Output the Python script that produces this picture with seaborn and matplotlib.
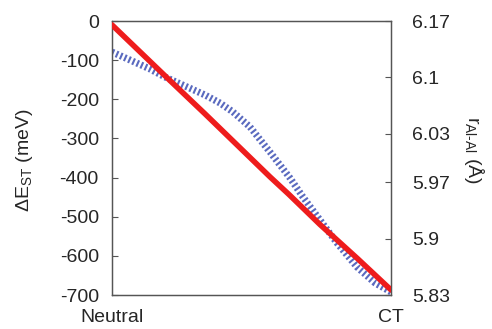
import matplotlib
matplotlib.use("Agg")
import matplotlib.pyplot as plt
import seaborn as sns

sns.set_style("ticks")
plt.rcParams['font.family'] = ['Liberation Sans', 'DejaVu Sans']
plt.rcParams['mathtext.fontset'] = 'custom'
plt.rcParams['mathtext.rm'] = 'Liberation Sans'
plt.rcParams['mathtext.it'] = 'Liberation Sans'

# Reaction coordinate (0 = Neutral, 1 = CT)
coord_red = [0.0, 0.19, 0.333, 0.566, 0.634, 0.7455, 0.88, 1.0]
delta_est = [-10, -140, -237, -398, -443, -520, -607, -687]

coord_blue = [0.0, 0.0645, 0.1362, 0.19, 0.2616, 0.3333, 0.3871, 0.4337, 0.4946,
              0.5663, 0.638, 0.6846, 0.7455, 0.8065, 0.8781, 0.9427, 1.0]
r_alal = [6.1315, 6.1216, 6.1104, 6.1005, 6.0893, 6.0782, 6.0682, 6.0571, 6.0385,
          6.0074, 5.9752, 5.9516, 5.9231, 5.8945, 5.8647, 5.8449, 5.8337]

x_ticklabels = ["Neutral", "CT"]
left_ticks = [0, -100, -200, -300, -400, -500, -600, -700]
right_ticks = [5.83, 5.9, 5.97, 6.03, 6.1, 6.17]
right_ticklabels = ["5.83", "5.9", "5.97", "6.03", "6.1", "6.17"]

fig = plt.figure(figsize=(4.92, 3.29), dpi=100)
ax = fig.add_subplot(111)
fig.subplots_adjust(left=112/492, right=391/492, top=1-21/329, bottom=1-295/329)
ax2 = ax.twinx()

sns.lineplot(x=coord_blue, y=r_alal, ax=ax2, color="#5a6abf", lw=5,
             linestyle=(0, (0.3, 0.35)), dash_capstyle='butt', zorder=2)
sns.lineplot(x=coord_red, y=delta_est, ax=ax, color="#ee1c1c", lw=4, zorder=3)

ax.set_zorder(ax2.get_zorder() + 1)
ax.patch.set_visible(False)

ax.set_xlim(0, 1)
ax.set_ylim(-700, 0)
ax2.set_ylim(5.83, 6.17)
ax.set_yticks(left_ticks)
ax.set_yticklabels([str(v) for v in left_ticks])
ax2.set_yticks(right_ticks)
ax2.set_yticklabels(right_ticklabels)
ax.set_xticks([0, 1])
ax.set_xticklabels(x_ticklabels)

fs = 14
ax.tick_params(axis='y', direction='in', length=4, width=0.8, color='#555555',
               labelsize=fs, pad=9.5)
ax2.tick_params(axis='y', direction='in', length=4, width=0.8, color='#555555',
                labelsize=fs, pad=15)
ax.tick_params(axis='x', length=0, labelsize=fs, pad=10)

for a in (ax, ax2):
    for s in a.spines.values():
        s.set_visible(True)
        s.set_color('#555555')
        s.set_linewidth(0.9)

ax.set_ylabel(r"$\Delta$E$_{\mathregular{ST}}$ (meV)", fontsize=fs, va='center')
ax.yaxis.set_label_coords(-0.315, 0.493)
ax2.set_ylabel(r"r$_{\mathregular{Al\text{-}Al}}$ ($\mathregular{\AA}$)", fontsize=fs,
               rotation=270, va='center')
ax2.yaxis.set_label_coords(1.2975, 0.53)

fig.savefig("out.png", dpi=100)
